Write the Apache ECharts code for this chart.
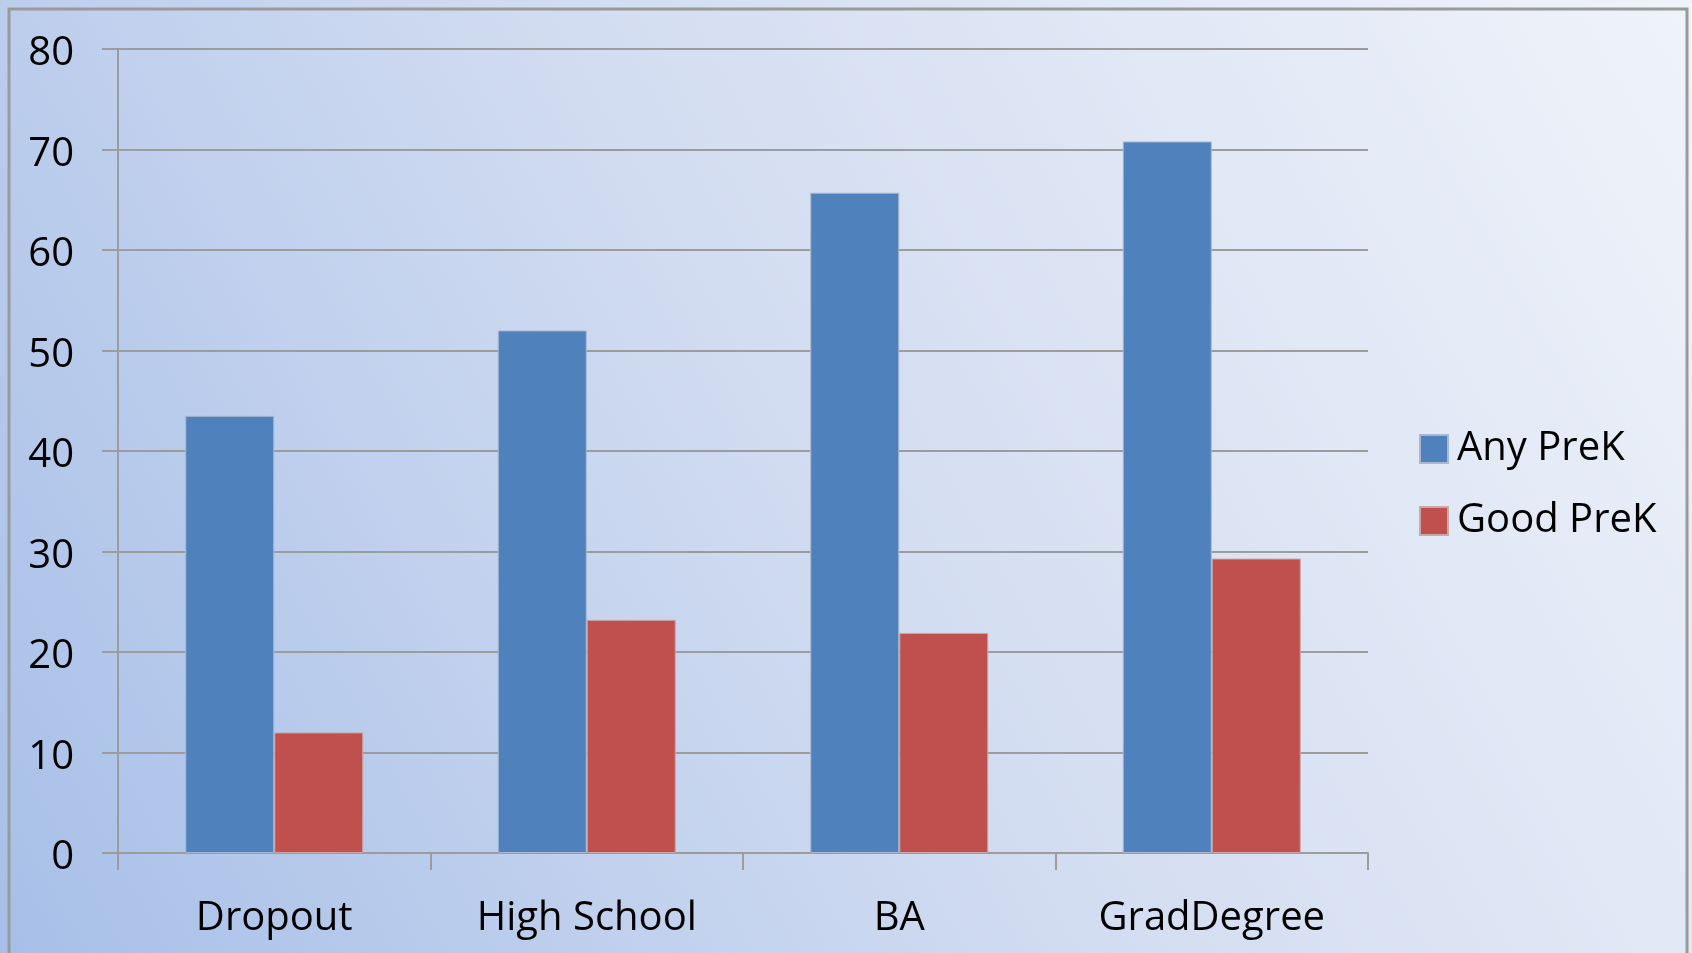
<!DOCTYPE html>
<html>
<head>
<meta charset="utf-8">
<script src="https://cdn.jsdelivr.net/npm/echarts@6/dist/echarts.min.js"></script>
<style>
  html, body { margin: 0; padding: 0; }
  #chart { width: 1692px; height: 953px; }
</style>
</head>
<body>
<div id="chart"></div>
<script>
const categories = ['Dropout', 'High School', 'BA', 'GradDegree'];
const anyPreK = [43.5, 52.0, 65.7, 70.8];
const goodPreK = [12.0, 23.2, 21.9, 29.3];
const yTicks = { min: 0, max: 80, interval: 10 };

const font = '"Open Sans", "Noto Sans", sans-serif';
const gridGrey = '#9c9c9c';

const chart = echarts.init(document.getElementById('chart'));

const option = {
  backgroundColor: {
    type: 'linear', x: 0, y: 1, x2: 1, y2: 0,
    colorStops: [
      { offset: 0, color: '#a7bfe8' },
      { offset: 0.5, color: '#d3ddf1' },
      { offset: 1, color: '#eff3fa' }
    ]
  },
  animation: false,
  graphic: [{
    type: 'rect',
    shape: { x: 9, y: 9, width: 1678, height: 960 },
    style: { fill: 'none', stroke: '#9a9a9a', lineWidth: 3 },
    silent: true
  }],
  textStyle: { fontFamily: font },
  grid: { left: 118, right: 324, top: 49, bottom: 100 },
  legend: {
    orient: 'vertical',
    left: 1414,
    top: 424,
    itemWidth: 28,
    itemHeight: 28,
    itemGap: 32,
    icon: 'rect',
    textStyle: { fontSize: 40, lineHeight: 30, color: '#000', fontFamily: font, padding: [0, 0, 0, 4] },
    data: ['Any PreK', 'Good PreK']
  },
  xAxis: {
    type: 'category',
    data: categories,
    axisLine: { lineStyle: { color: gridGrey, width: 2 } },
    axisTick: { show: true, length: 17, lineStyle: { color: gridGrey, width: 2 } },
    axisLabel: { fontSize: 40, color: '#000', margin: 46 }
  },
  yAxis: {
    type: 'value',
    min: yTicks.min,
    max: yTicks.max,
    interval: yTicks.interval,
    axisLine: { show: true, lineStyle: { color: gridGrey, width: 2 } },
    axisTick: { show: true, length: 16, lineStyle: { color: gridGrey, width: 2 } },
    axisLabel: {
      margin: 44,
      formatter: '{v|{value}}',
      rich: { v: { fontSize: 40, color: '#000', fontFamily: font, padding: [10, 0, 0, 0] } }
    },
    splitLine: { lineStyle: { color: gridGrey, width: 2 } }
  },
  series: [
    {
      name: 'Any PreK',
      type: 'bar',
      data: anyPreK,
      barWidth: 89,
      barGap: '0%',
      itemStyle: { color: '#4f81bd', borderColor: '#a9b8d0', borderWidth: 1 }
    },
    {
      name: 'Good PreK',
      type: 'bar',
      data: goodPreK,
      barWidth: 89,
      barGap: '0%',
      itemStyle: { color: '#c0504d', borderColor: '#c8a8a8', borderWidth: 1 }
    }
  ]
};

chart.setOption(option);
</script>
</body>
</html>
